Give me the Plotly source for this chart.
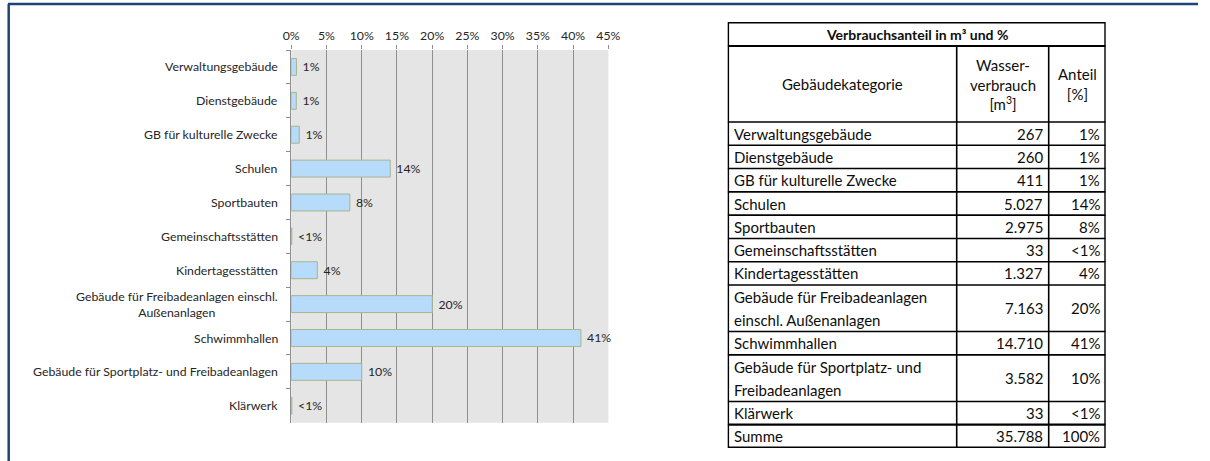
import plotly.graph_objects as go

# ---------------- data ----------------
categories = [
    "Verwaltungsgebäude",
    "Dienstgebäude",
    "GB für kulturelle Zwecke",
    "Schulen",
    "Sportbauten",
    "Gemeinschaftsstätten",
    "Kindertagesstätten",
    "Gebäude für Freibadeanlagen einschl.<br>Außenanlagen",
    "Schwimmhallen",
    "Gebäude für Sportplatz- und Freibadeanlagen",
    "Klärwerk",
]
table_categories = [
    "Verwaltungsgebäude",
    "Dienstgebäude",
    "GB für kulturelle Zwecke",
    "Schulen",
    "Sportbauten",
    "Gemeinschaftsstätten",
    "Kindertagesstätten",
    "Gebäude für Freibadeanlagen<br>einschl. Außenanlagen",
    "Schwimmhallen",
    "Gebäude für Sportplatz- und<br>Freibadeanlagen",
    "Klärwerk",
]
consumption_m3 = [267, 260, 411, 5027, 2975, 33, 1327, 7163, 14710, 3582, 33]
share_labels = ["1%", "1%", "1%", "14%", "8%", "&lt;1%", "4%", "20%", "41%", "10%", "&lt;1%"]
x_ticks = [0, 5, 10, 15, 20, 25, 30, 35, 40, 45]
table_title = "Verbrauchsanteil in m³ und %"
table_header = ["Gebäudekategorie", "Wasser-<br>verbrauch<br>[m<sup>3</sup>]", "Anteil<br>[%]"]
sum_label = "Summe"
sum_share_label = "100%"

total = sum(consumption_m3)
share_pct = [v / total * 100 for v in consumption_m3]


def de_num(v):
    return f"{v:,}".replace(",", ".")


W, H = 1210, 461
# horizontal placement of the drawing area as it appears on the page
X_OFF, X_SPAN = 8.3, 1190.0


def fx(p):
    return min(1.0, max(0.0, (p - X_OFF) / X_SPAN))


def fy(p):
    return 1 - p / H


FONT = "Lato"
LBL = 12.3
TFS = 15

fig = go.Figure()

# ---------------- bar chart ----------------
fig.add_trace(go.Bar(
    y=categories,
    x=share_pct,
    orientation="h",
    width=0.5,
    marker=dict(color="#b7dbfa", line=dict(color="#a7b58c", width=1)),
    text=["\u00a0" + s for s in share_labels],
    textposition="outside",
    cliponaxis=False,
    textfont=dict(family=FONT, size=LBL, color="#262626"),
    hoverinfo="skip",
    showlegend=False,
))

x0_px, x1_px = 291.5, 608.7
y_top_px, y_bot_px = 50.0, 422.7

# table frame geometry (pixels)
tx0, tx1 = 728, 1106
t_top, t_bot = 22, 448
title_h, header_h = 24, 76
col_widths = [229, 92, 57]
tab_w = sum(col_widths)
tab_h = t_bot - t_top

fig.update_layout(
    width=W, height=H,
    margin=dict(l=0, r=0, t=0, b=0),
    paper_bgcolor="white",
    plot_bgcolor="white",
    font=dict(family=FONT, size=LBL, color="#262626"),
    xaxis=dict(
        domain=[fx(x0_px), fx(x1_px)],
        side="top",
        range=[0, 45],
        tickvals=x_ticks,
        ticktext=[f"{t}%" for t in x_ticks],
        showgrid=True, gridcolor="#8f8f8f", gridwidth=1,
        ticks="outside", ticklen=4, tickcolor="#8f8f8f",
        zeroline=False, showline=False,
        tickfont=dict(family=FONT, size=LBL, color="#262626"),
        fixedrange=True,
    ),
    yaxis=dict(
        domain=[fy(y_bot_px), fy(y_top_px)],
        type="category",
        categoryorder="array", categoryarray=categories,
        autorange="reversed",
        tickson="boundaries",
        ticks="outside", ticklen=4, tickcolor="#8f8f8f",
        showline=True, linecolor="#8f8f8f", linewidth=1,
        showgrid=False,
        showticklabels=False,
        fixedrange=True,
    ),
    # helper axes for the table (units = pixels inside the table frame)
    xaxis2=dict(domain=[fx(tx0), fx(tx1)], range=[0, tab_w], anchor="y2",
                visible=False, fixedrange=True),
    yaxis2=dict(domain=[fy(t_bot), fy(t_top)], range=[tab_h, 0], anchor="x2",
                visible=False, fixedrange=True),
)

# grey plot background of the bar chart only
fig.add_shape(type="rect", xref="x domain", yref="y domain", x0=0, x1=1, y0=0, y1=1,
              fillcolor="#e5e5e5", line=dict(width=0), layer="below")

# category labels (centered multi-line, right-anchored like the original)
for c in categories:
    fig.add_annotation(
        xref="paper", yref="y", x=fx(x0_px), y=c,
        xanchor="right", yanchor="middle", xshift=-11,
        text=c, align="center", showarrow=False,
        font=dict(family=FONT, size=LBL, color="#262626"),
    )

# ---------------- table ----------------
col_x = [0]
for w in col_widths:
    col_x.append(col_x[-1] + w)

body_col1 = table_categories + [sum_label]
body_col2 = [de_num(v) for v in consumption_m3] + [de_num(total)]
body_col3 = share_labels + [sum_share_label]
line_counts = [len(t.split("<br>")) for t in body_col1]
unit_h = (tab_h - title_h - header_h) / sum(line_counts)

ink = "#0d0d0d"


def hline(y, w=1.6):
    fig.add_shape(type="line", xref="x2", yref="y2", x0=0, x1=tab_w, y0=y, y1=y,
                  line=dict(color="black", width=w))


def vline(x, y0, y1, w=1.6):
    fig.add_shape(type="line", xref="x2", yref="y2", x0=x, x1=x, y0=y0, y1=y1,
                  line=dict(color="black", width=w))


def cell_text(x, y, text, anchor, size=TFS, bold=False):
    fig.add_annotation(xref="x2", yref="y2", x=x, y=y, text=f"<b>{text}</b>" if bold else text,
                       xanchor=anchor, yanchor="middle", align="center", showarrow=False,
                       font=dict(family=FONT, size=size, color=ink))


# title row
cell_text(tab_w / 2, title_h / 2, table_title, "center", size=14, bold=True)
hline(title_h, 2)

# header row
hy0, hy1 = title_h, title_h + header_h
for i, txt in enumerate(table_header):
    cell_text((col_x[i] + col_x[i + 1]) / 2, (hy0 + hy1) / 2, txt, "center")

# body rows
pad = 4
y = hy1
for t1, t2, t3, n in zip(body_col1, body_col2, body_col3, line_counts):
    hline(y, 2.2 if t1 == sum_label else 1.6)
    for k, part in enumerate(t1.split("<br>")):
        cell_text(pad, y + (k + 0.5) * unit_h, part, "left")
    mid = y + n * unit_h / 2
    cell_text(col_x[2] - pad, mid, t2, "right")
    cell_text(col_x[3] - pad, mid, t3, "right")
    y += n * unit_h

# column separators (below the title row)
for cx in col_x[1:-1]:
    vline(cx, title_h, tab_h)

# outer frame
fig.add_shape(type="rect", xref="x2", yref="y2", x0=0, x1=tab_w, y0=0, y1=tab_h,
              line=dict(color="black", width=2.8))

# blue page frame (top and left)
fig.add_shape(type="line", xref="paper", yref="paper",
              x0=fx(8), x1=1, y0=fy(4), y1=fy(4),
              line=dict(color="#1f4578", width=2.5))
fig.add_shape(type="line", xref="paper", yref="paper",
              x0=fx(9), x1=fx(9), y0=0, y1=fy(4),
              line=dict(color="#1f4578", width=2.5))

fig.write_html(
    "out.html",
    config={"displayModeBar": False},
    post_script=(
        "document.body.style.margin='0';"
        "document.body.style.overflow='hidden';"
        "document.documentElement.style.overflow='hidden';"
    ),
)
